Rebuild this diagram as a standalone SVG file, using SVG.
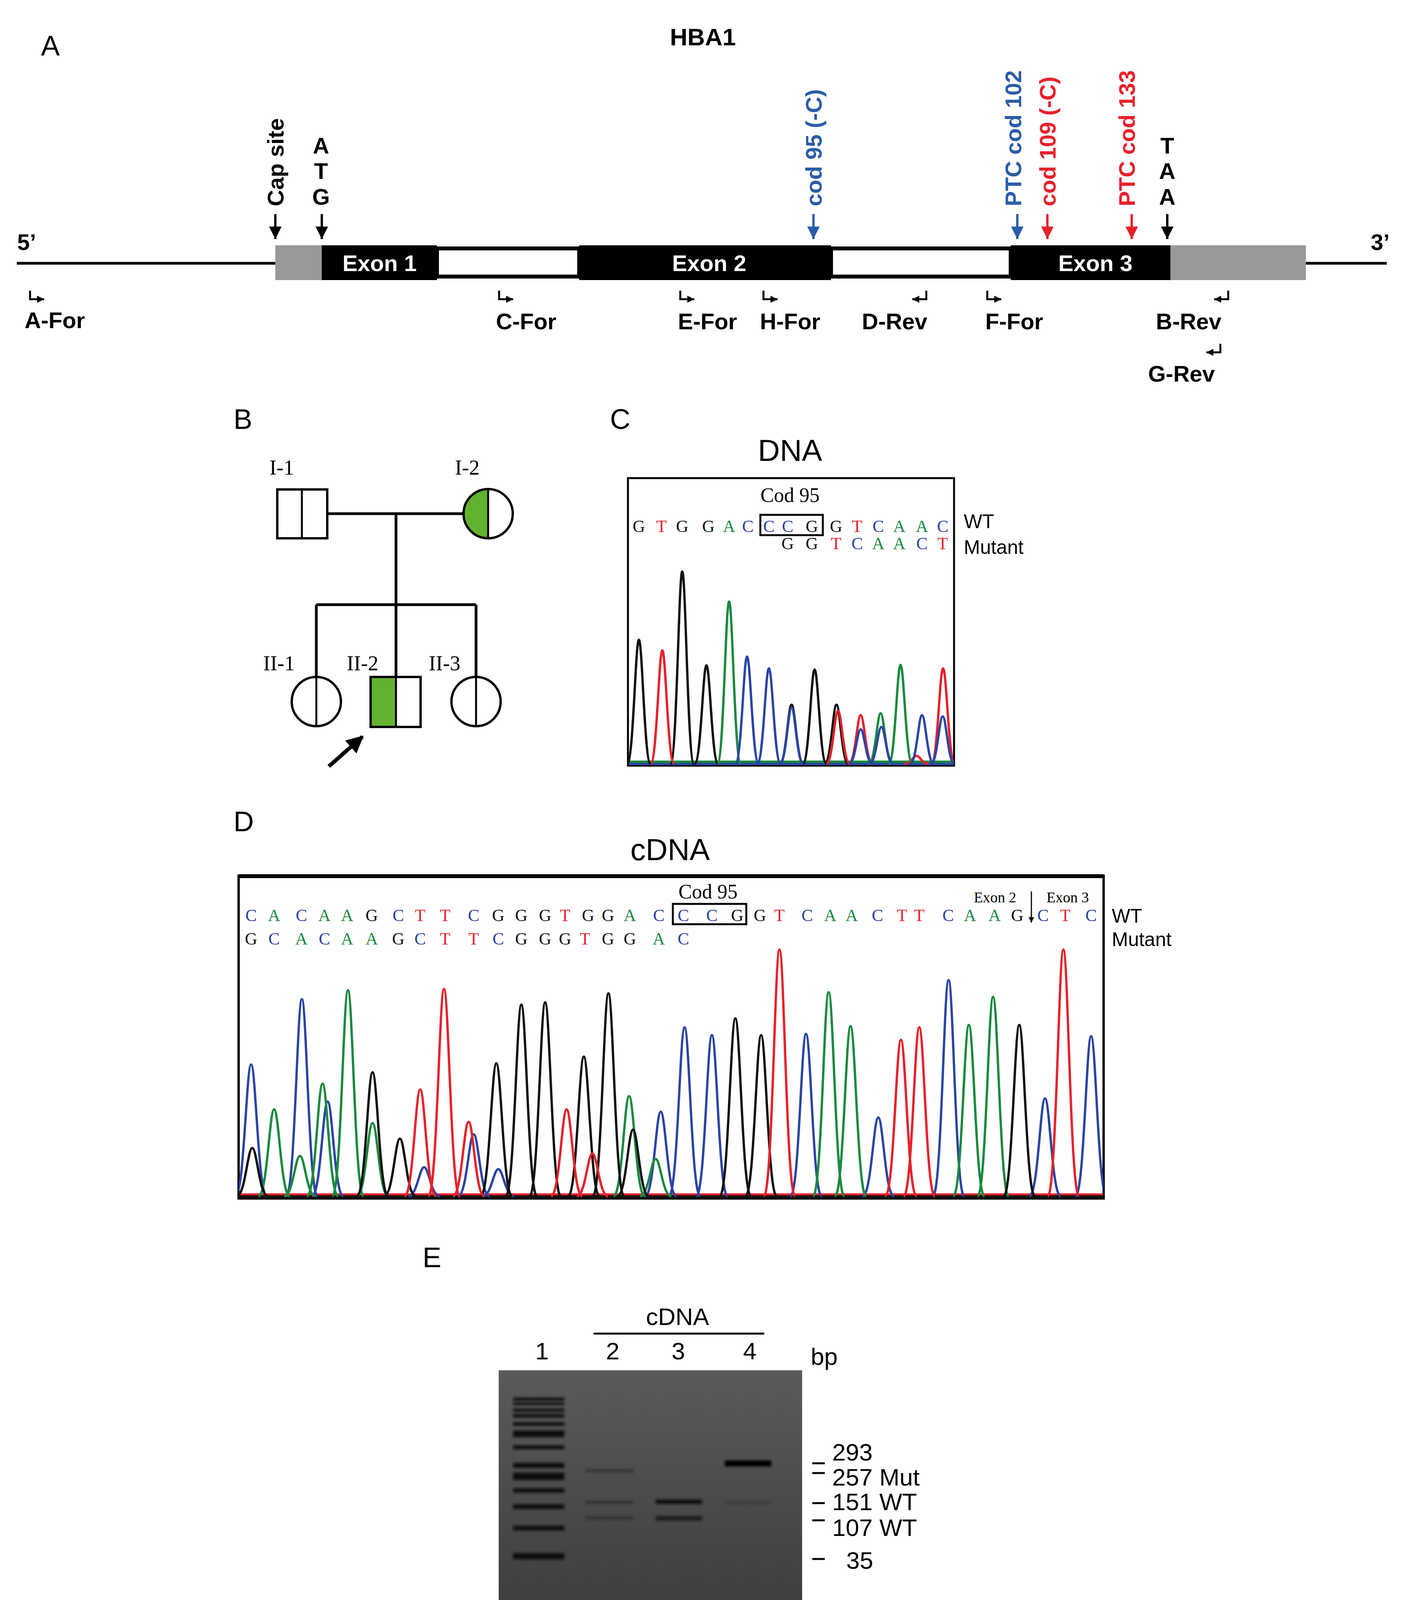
<svg xmlns="http://www.w3.org/2000/svg" width="3608" height="4448" viewBox="0 0 3608 4448">
<defs>
<style>
.sans{font-family:"Liberation Sans",Arial,sans-serif}
.bold{font-family:"Liberation Sans",Arial,sans-serif;font-weight:bold}
.ser{font-family:"Liberation Serif","Times New Roman",serif}
.pl{font-family:"Liberation Sans",Arial,sans-serif;font-size:72px}
.lab{font-family:"Liberation Sans",Arial,sans-serif;font-weight:bold;font-size:58px}
.g{fill:#111}.t{fill:#e8202a}.c{fill:#2b44a4}.a{fill:#1a8a3e}
.tr{fill:none;stroke-width:6}
.k{stroke:#111}.r{stroke:#e8202a}.b{stroke:#2b44a4}.gr{stroke:#1a8a3e}
.ln{stroke:#000;stroke-width:7;fill:none}
.gl{font-family:"Liberation Sans",Arial,sans-serif;font-size:62px}
</style>
<marker id="ahk" viewBox="0 0 10 10" refX="10" refY="5" markerWidth="32" markerHeight="38" markerUnits="userSpaceOnUse" orient="auto"><path d="M0,0 L10,5 L0,10 Z" fill="#000"/></marker>
<marker id="ahb" viewBox="0 0 10 10" refX="10" refY="5" markerWidth="32" markerHeight="38" markerUnits="userSpaceOnUse" orient="auto"><path d="M0,0 L10,5 L0,10 Z" fill="#2b5ca8"/></marker>
<marker id="ahr" viewBox="0 0 10 10" refX="10" refY="5" markerWidth="32" markerHeight="38" markerUnits="userSpaceOnUse" orient="auto"><path d="M0,0 L10,5 L0,10 Z" fill="#e8202a"/></marker>
<marker id="ahs" viewBox="0 0 10 10" refX="10" refY="5" markerWidth="16" markerHeight="14" markerUnits="userSpaceOnUse" orient="auto"><path d="M0,0 L10,5 L0,10 Z" fill="#000"/></marker>
<marker id="pr" viewBox="0 0 10 10" refX="10" refY="5" markerWidth="20" markerHeight="18" markerUnits="userSpaceOnUse" orient="auto"><path d="M0,0 L10,5 L0,10 Z" fill="#000"/></marker>
<marker id="big" viewBox="0 0 10 10" refX="9" refY="5" markerWidth="50" markerHeight="44" markerUnits="userSpaceOnUse" orient="auto"><path d="M0,0 L10,5 L0,10 Z" fill="#000"/></marker>
<clipPath id="cc"><rect x="1608" y="1224" width="835" height="736"/></clipPath>
<clipPath id="cd"><rect x="611" y="2242" width="2215" height="826"/></clipPath>
<linearGradient id="gel" x1="0" y1="0" x2="0" y2="1"><stop offset="0" stop-color="#5a5a5a"/><stop offset="1" stop-color="#3c3c3c"/></linearGradient>
<filter id="bl" x="-10%" y="-100%" width="120%" height="300%"><feGaussianBlur stdDeviation="3"/></filter>
</defs>
<rect width="3608" height="4448" fill="#fff"/>

<!-- Panel A -->
<g id="panelA">
<text class="pl" x="105" y="142">A</text>
<text class="bold" font-size="62" x="1800" y="116" text-anchor="middle">HBA1</text>
<text class="bold" font-size="58" x="44" y="640">5’</text>
<text class="bold" font-size="58" x="3510" y="640">3’</text>
<line x1="43" y1="674" x2="705" y2="674" class="ln"/>
<line x1="3344" y1="674" x2="3551" y2="674" class="ln"/>
<rect x="705" y="628" width="119" height="89" fill="#999"/>
<rect x="2997" y="628" width="347" height="89" fill="#999"/>
<g id="exon1"><rect x="824" y="628" width="295" height="89" fill="#000"/><text class="bold" font-size="58" x="972" y="694" fill="#fff" text-anchor="middle">Exon 1</text></g>
<rect x="1119" y="636" width="364" height="72" fill="#fff" stroke="#000" stroke-width="10"/>
<g id="exon2"><rect x="1483" y="628" width="645" height="89" fill="#000"/><text class="bold" font-size="58" x="1816" y="694" fill="#fff" text-anchor="middle">Exon 2</text></g>
<rect x="2128" y="636" width="460" height="72" fill="#fff" stroke="#000" stroke-width="10"/>
<g id="exon3"><rect x="2588" y="628" width="409" height="89" fill="#000"/><text class="bold" font-size="58" x="2805" y="694" fill="#fff" text-anchor="middle">Exon 3</text></g>
</g>
<g id="siteArrows" stroke-width="6">
<line x1="705" y1="548" x2="705" y2="612" stroke="#000" marker-end="url(#ahk)"/>
<line x1="824" y1="548" x2="824" y2="612" stroke="#000" marker-end="url(#ahk)"/>
<line x1="2083" y1="548" x2="2083" y2="612" stroke="#2b5ca8" marker-end="url(#ahb)"/>
<line x1="2605" y1="548" x2="2605" y2="612" stroke="#2b5ca8" marker-end="url(#ahb)"/>
<line x1="2682" y1="548" x2="2682" y2="612" stroke="#e8202a" marker-end="url(#ahr)"/>
<line x1="2898" y1="548" x2="2898" y2="612" stroke="#e8202a" marker-end="url(#ahr)"/>
<line x1="2989" y1="548" x2="2989" y2="612" stroke="#000" marker-end="url(#ahk)"/>
</g>
<g id="siteLabels" class="lab">
<text transform="translate(726,528) rotate(-90)">Cap site</text>
<text x="822" y="393" text-anchor="middle">A</text>
<text x="822" y="458" text-anchor="middle">T</text>
<text x="822" y="524" text-anchor="middle">G</text>
<text transform="translate(2104,528) rotate(-90)" fill="#2b5ca8">cod 95 (-C)</text>
<text transform="translate(2615,528) rotate(-90)" fill="#2b5ca8">PTC cod 102</text>
<text transform="translate(2703,528) rotate(-90)" fill="#e8202a">cod 109 (-C)</text>
<text transform="translate(2906,528) rotate(-90)" fill="#e8202a">PTC cod 133</text>
<text x="2989" y="393" text-anchor="middle">T</text>
<text x="2989" y="458" text-anchor="middle">A</text>
<text x="2989" y="524" text-anchor="middle">A</text>
</g>
<g id="primers" fill="none" stroke="#000" stroke-width="5">
<path d="M77,744 v22 h36" marker-end="url(#pr)"/>
<path d="M1278,744 v22 h36" marker-end="url(#pr)"/>
<path d="M1742,744 v22 h36" marker-end="url(#pr)"/>
<path d="M1955,744 v22 h36" marker-end="url(#pr)"/>
<path d="M2372,744 v22 h-36" marker-end="url(#pr)"/>
<path d="M2528,744 v22 h36" marker-end="url(#pr)"/>
<path d="M3145,744 v22 h-36" marker-end="url(#pr)"/>
<path d="M3125,880 v22 h-36" marker-end="url(#pr)"/>
</g>
<g id="primerLabels" class="lab">
<text x="63" y="840">A-For</text>
<text x="1270" y="843">C-For</text>
<text x="1736" y="843">E-For</text>
<text x="1946" y="843">H-For</text>
<text x="2207" y="843">D-Rev</text>
<text x="2523" y="843">F-For</text>
<text x="2960" y="843">B-Rev</text>
<text x="2940" y="977">G-Rev</text>
</g>

<!-- Panel B pedigree -->
<g id="panelB">
<text class="pl" x="598" y="1098">B</text>
<g id="pedLines" class="ln" stroke-width="6">
<line x1="838" y1="1315" x2="1187" y2="1315"/>
<line x1="1014" y1="1315" x2="1014" y2="1548"/>
<line x1="810" y1="1548" x2="1219" y2="1548"/>
<line x1="810" y1="1548" x2="810" y2="1733"/>
<line x1="1014" y1="1548" x2="1014" y2="1733"/>
<line x1="1219" y1="1548" x2="1219" y2="1733"/>
</g>
<g id="I-1"><rect x="710" y="1253" width="128" height="125" fill="#fff" stroke="#000" stroke-width="6"/><line x1="773" y1="1253" x2="773" y2="1378" stroke="#000" stroke-width="5"/></g>
<g id="I-2"><path d="M1250,1252 A63,63 0 0 0 1250,1378 Z" fill="#62b22f"/><circle cx="1250" cy="1315" r="63" fill="none" stroke="#000" stroke-width="6"/><line x1="1250" y1="1252" x2="1250" y2="1378" stroke="#000" stroke-width="5"/></g>
<g id="II-1"><circle cx="810" cy="1796" r="63" fill="#fff" stroke="#000" stroke-width="6"/><line x1="810" y1="1733" x2="810" y2="1859" stroke="#000" stroke-width="5"/></g>
<g id="II-2"><rect x="949" y="1733" width="65" height="128" fill="#62b22f"/><rect x="949" y="1733" width="128" height="128" fill="none" stroke="#000" stroke-width="6"/><line x1="1014" y1="1733" x2="1014" y2="1861" stroke="#000" stroke-width="5"/></g>
<g id="II-3"><circle cx="1219" cy="1796" r="63" fill="#fff" stroke="#000" stroke-width="6"/><line x1="1219" y1="1733" x2="1219" y2="1859" stroke="#000" stroke-width="5"/></g>
<line x1="842" y1="1962" x2="928" y2="1886" stroke="#000" stroke-width="10" marker-end="url(#big)"/>
<g class="ser" font-size="54">
<text x="690" y="1215">I-1</text>
<text x="1165" y="1215">I-2</text>
<text x="674" y="1716">II-1</text>
<text x="888" y="1716">II-2</text>
<text x="1098" y="1716">II-3</text>
</g>
</g>

<!-- Panel C -->
<g id="panelC">
<text class="pl" x="1562" y="1098">C</text>
<text class="sans" font-size="78" x="2023" y="1180" text-anchor="middle">DNA</text>
<rect x="1608" y="1224" width="835" height="736" fill="none" stroke="#000" stroke-width="5"/>
<text class="ser" font-size="52" x="2023" y="1285" text-anchor="middle">Cod 95</text>
<rect x="1947" y="1318" width="160" height="52" fill="none" stroke="#000" stroke-width="5"/>
<g class="ser" font-size="44" text-anchor="middle">
<text x="1636" y="1362" class="g">G</text><text x="1694" y="1362" class="t">T</text><text x="1747" y="1362" class="g">G</text><text x="1814" y="1362" class="g">G</text><text x="1867" y="1362" class="a">A</text><text x="1915" y="1362" class="c">C</text><text x="1969" y="1362" class="c">C</text><text x="2017" y="1362" class="c">C</text><text x="2079" y="1362" class="g">G</text><text x="2141" y="1362" class="g">G</text><text x="2195" y="1362" class="t">T</text><text x="2249" y="1362" class="c">C</text><text x="2303" y="1362" class="a">A</text><text x="2361" y="1362" class="a">A</text><text x="2414" y="1362" class="c">C</text>
<text x="2017" y="1406" class="g">G</text><text x="2079" y="1406" class="g">G</text><text x="2141" y="1406" class="t">T</text><text x="2195" y="1406" class="c">C</text><text x="2249" y="1406" class="a">A</text><text x="2303" y="1406" class="a">A</text><text x="2361" y="1406" class="c">C</text><text x="2414" y="1406" class="t">T</text>
</g>
<text class="sans" font-size="50" x="2468" y="1352">WT</text>
<text class="sans" font-size="50" x="2468" y="1418">Mutant</text>
<g clip-path="url(#cc)">
<path class="tr gr" d="M1610,1950 H2440"/>
<path class="tr b" d="M1610,1956 H2440"/>
<path class="tr k" d="M1606,1955C1622,1955 1627,1638 1636,1638C1645,1638 1650,1955 1666,1955M1717,1955C1733,1955 1738,1463 1747,1463C1756,1463 1761,1955 1777,1955M1779,1955C1795,1955 1800,1703 1809,1703C1818,1703 1823,1955 1839,1955M1997,1955C2013,1955 2018,1804 2027,1804C2036,1804 2041,1955 2057,1955M2056,1955C2072,1955 2077,1714 2086,1714C2095,1714 2100,1955 2116,1955M2112,1955C2128,1955 2133,1804 2142,1804C2151,1804 2156,1955 2172,1955"/>
<path class="tr r" d="M1666,1955C1682,1955 1687,1665 1696,1665C1705,1665 1710,1955 1726,1955M2116,1955C2132,1955 2137,1820 2146,1820C2155,1820 2160,1955 2176,1955M2174,1955C2190,1955 2195,1831 2204,1831C2213,1831 2218,1955 2234,1955M2317,1955C2333,1955 2338,1935 2347,1935C2356,1935 2361,1955 2377,1955M2385,1955C2401,1955 2406,1711 2415,1711C2424,1711 2429,1955 2445,1955"/>
<path class="tr gr" d="M1837,1955C1853,1955 1858,1540 1867,1540C1876,1540 1881,1955 1897,1955M2225,1955C2241,1955 2246,1826 2255,1826C2264,1826 2269,1955 2285,1955M2276,1955C2292,1955 2297,1702 2306,1702C2315,1702 2320,1955 2336,1955"/>
<path class="tr b" d="M1883,1955C1899,1955 1904,1681 1913,1681C1922,1681 1927,1955 1943,1955M1939,1955C1955,1955 1960,1711 1969,1711C1978,1711 1983,1955 1999,1955M1997,1955C2013,1955 2018,1812 2027,1812C2036,1812 2041,1955 2057,1955M2174,1955C2190,1955 2195,1867 2204,1867C2213,1867 2218,1955 2234,1955M2227,1955C2243,1955 2248,1861 2257,1861C2266,1861 2271,1955 2287,1955M2331,1955C2347,1955 2352,1831 2361,1831C2370,1831 2375,1955 2391,1955M2384,1955C2400,1955 2405,1834 2414,1834C2423,1834 2428,1955 2444,1955"/>
</g>
</g>

<!-- Panel D -->
<g id="panelD">
<text class="pl" x="598" y="2128">D</text>
<text class="sans" font-size="78" x="1716" y="2202" text-anchor="middle">cDNA</text>
<rect x="611" y="2242" width="2215" height="826" fill="none" stroke="#000" stroke-width="6"/>
<line x1="611" y1="2243" x2="2826" y2="2243" stroke="#000" stroke-width="10"/>
<text class="ser" font-size="52" x="1813" y="2300" text-anchor="middle">Cod 95</text>
<rect x="1723" y="2314" width="188" height="52" fill="none" stroke="#000" stroke-width="5"/>
<text class="ser" font-size="38" x="2548" y="2310" text-anchor="middle">Exon 2</text>
<text class="ser" font-size="38" x="2734" y="2310" text-anchor="middle">Exon 3</text>
<line x1="2641" y1="2282" x2="2641" y2="2362" stroke="#000" stroke-width="3" marker-end="url(#ahs)"/>
<g class="ser" font-size="44" text-anchor="middle">
<text x="643" y="2358" class="c">C</text><text x="702" y="2358" class="a">A</text><text x="772" y="2358" class="c">C</text><text x="831" y="2358" class="a">A</text><text x="889" y="2358" class="a">A</text><text x="952" y="2358" class="g">G</text><text x="1020" y="2358" class="c">C</text><text x="1076" y="2358" class="t">T</text><text x="1140" y="2358" class="t">T</text><text x="1213" y="2358" class="c">C</text><text x="1276" y="2358" class="g">G</text><text x="1335" y="2358" class="g">G</text><text x="1396" y="2358" class="g">G</text><text x="1447" y="2358" class="t">T</text><text x="1506" y="2358" class="g">G</text><text x="1557" y="2358" class="g">G</text><text x="1613" y="2358" class="a">A</text><text x="1687" y="2358" class="c">C</text><text x="1750" y="2358" class="c">C</text><text x="1823" y="2358" class="c">C</text><text x="1888" y="2358" class="g">G</text><text x="1946" y="2358" class="g">G</text><text x="1996" y="2358" class="t">T</text><text x="2067" y="2358" class="c">C</text><text x="2126" y="2358" class="a">A</text><text x="2181" y="2358" class="a">A</text><text x="2247" y="2358" class="c">C</text><text x="2310" y="2358" class="t">T</text><text x="2354" y="2358" class="t">T</text><text x="2428" y="2358" class="c">C</text><text x="2484" y="2358" class="a">A</text><text x="2547" y="2358" class="a">A</text><text x="2605" y="2358" class="g">G</text><text x="2671" y="2358" class="c">C</text><text x="2728" y="2358" class="t">T</text><text x="2794" y="2358" class="c">C</text>
<text x="643" y="2418" class="g">G</text><text x="702" y="2418" class="c">C</text><text x="772" y="2418" class="a">A</text><text x="831" y="2418" class="c">C</text><text x="889" y="2418" class="a">A</text><text x="952" y="2418" class="a">A</text><text x="1020" y="2418" class="g">G</text><text x="1076" y="2418" class="c">C</text><text x="1140" y="2418" class="t">T</text><text x="1213" y="2418" class="t">T</text><text x="1276" y="2418" class="c">C</text><text x="1335" y="2418" class="g">G</text><text x="1396" y="2418" class="g">G</text><text x="1447" y="2418" class="g">G</text><text x="1498" y="2418" class="t">T</text><text x="1557" y="2418" class="g">G</text><text x="1613" y="2418" class="g">G</text><text x="1687" y="2418" class="a">A</text><text x="1750" y="2418" class="c">C</text>
</g>
<text class="sans" font-size="50" x="2847" y="2362">WT</text>
<text class="sans" font-size="50" x="2847" y="2422">Mutant</text>
<g clip-path="url(#cd)">
<path class="tr r" d="M613,3058 H2824"/>
<path class="tr k" d="M613,3063 H2824"/>
<path class="tr b" d="M603,3062C625,3062 631,2725 643,2725C655,2725 661,3062 683,3062M733,3062C755,3062 761,2558 773,2558C785,2558 791,3062 813,3062M799,3062C821,3062 827,2820 839,2820C851,2820 857,3062 879,3062M1046,3062C1068,3062 1074,2988 1086,2988C1098,2988 1104,3062 1126,3062M1173,3062C1195,3062 1201,2904 1213,2904C1225,2904 1231,3062 1253,3062M1236,3062C1258,3062 1264,2993 1276,2993C1288,2993 1294,3062 1316,3062M1652,3062C1674,3062 1680,2846 1692,2846C1704,2846 1710,3062 1732,3062M1713,3062C1735,3062 1741,2630 1753,2630C1765,2630 1771,3062 1793,3062M1783,3062C1805,3062 1811,2650 1823,2650C1835,2650 1841,3062 1863,3062M2024,3062C2046,3062 2052,2647 2064,2647C2076,2647 2082,3062 2104,3062M2209,3062C2231,3062 2237,2861 2249,2861C2261,2861 2267,3062 2289,3062M2389,3062C2411,3062 2417,2509 2429,2509C2441,2509 2447,3062 2469,3062M2636,3062C2658,3062 2664,2812 2676,2812C2688,2812 2694,3062 2716,3062M2754,3062C2776,3062 2782,2653 2794,2653C2806,2653 2812,3062 2834,3062"/>
<path class="tr gr" d="M662,3062C684,3062 690,2840 702,2840C714,2840 720,3062 742,3062M728,3062C750,3062 756,2959 768,2959C780,2959 786,3062 808,3062M786,3062C808,3062 814,2774 826,2774C838,2774 844,3062 866,3062M851,3062C873,3062 879,2535 891,2535C903,2535 909,3062 931,3062M914,3062C936,3062 942,2875 954,2875C966,2875 972,3062 994,3062M1571,3062C1593,3062 1599,2806 1611,2806C1623,2806 1629,3062 1651,3062M1639,3062C1661,3062 1667,2967 1679,2967C1691,2967 1697,3062 1719,3062M2082,3062C2104,3062 2110,2540 2122,2540C2134,2540 2140,3062 2162,3062M2138,3062C2160,3062 2166,2627 2178,2627C2190,2627 2196,3062 2218,3062M2441,3062C2463,3062 2469,2624 2481,2624C2493,2624 2499,3062 2521,3062M2503,3062C2525,3062 2531,2552 2543,2552C2555,2552 2561,3062 2583,3062"/>
<path class="tr k" d="M606,3062C628,3062 634,2939 646,2939C658,2939 664,3062 686,3062M914,3062C936,3062 942,2745 954,2745C966,2745 972,3062 994,3062M984,3062C1006,3062 1012,2915 1024,2915C1036,2915 1042,3062 1064,3062M1231,3062C1253,3062 1259,2722 1271,2722C1283,2722 1289,3062 1311,3062M1295,3062C1317,3062 1323,2572 1335,2572C1347,2572 1353,3062 1375,3062M1356,3062C1378,3062 1384,2566 1396,2566C1408,2566 1414,3062 1436,3062M1455,3062C1477,3062 1483,2705 1495,2705C1507,2705 1513,3062 1535,3062M1518,3062C1540,3062 1546,2543 1558,2543C1570,2543 1576,3062 1598,3062M1581,3062C1603,3062 1609,2892 1621,2892C1633,2892 1639,3062 1661,3062M1843,3062C1865,3062 1871,2607 1883,2607C1895,2607 1901,3062 1923,3062M1909,3062C1931,3062 1937,2650 1949,2650C1961,2650 1967,3062 1989,3062M2570,3062C2592,3062 2598,2624 2610,2624C2622,2624 2628,3062 2650,3062"/>
<path class="tr r" d="M1036,3062C1058,3062 1064,2789 1076,2789C1088,2789 1094,3062 1116,3062M1097,3062C1119,3062 1125,2532 1137,2532C1149,2532 1155,3062 1177,3062M1160,3062C1182,3062 1188,2872 1200,2872C1212,2872 1218,3062 1240,3062M1411,3062C1433,3062 1439,2840 1451,2840C1463,2840 1469,3062 1491,3062M1477,3062C1499,3062 1505,2953 1517,2953C1529,2953 1535,3062 1557,3062M1956,3062C1978,3062 1984,2431 1996,2431C2008,2431 2014,3062 2036,3062M2267,3062C2289,3062 2295,2662 2307,2662C2319,2662 2325,3062 2347,3062M2314,3062C2336,3062 2342,2630 2354,2630C2366,2630 2372,3062 2394,3062M2683,3062C2705,3062 2711,2431 2723,2431C2735,2431 2741,3062 2763,3062"/>
</g>
</g>

<!-- Panel E -->
<g id="panelE">
<text class="pl" x="1082" y="3244">E</text>
<text class="gl" x="1735" y="3392" text-anchor="middle">cDNA</text>
<line x1="1520" y1="3414" x2="1957" y2="3414" stroke="#000" stroke-width="5"/>
<g class="gl" text-anchor="middle">
<text x="1388" y="3480">1</text><text x="1569" y="3480">2</text><text x="1737" y="3480">3</text><text x="1920" y="3480">4</text>
</g>
<text class="gl" x="2076" y="3494">bp</text>
<rect x="1277" y="3508" width="777" height="645" fill="url(#gel)"/>
<g id="ladder" fill="#0c0c0c" filter="url(#bl)">
<rect x="1314" y="3578" width="131" height="8"/>
<rect x="1314" y="3590" width="131" height="7"/>
<rect x="1314" y="3606" width="131" height="8"/>
<rect x="1314" y="3620" width="131" height="9"/>
<rect x="1314" y="3641" width="131" height="9"/>
<rect x="1314" y="3662" width="131" height="17"/>
<rect x="1314" y="3700" width="131" height="10"/>
<rect x="1314" y="3745" width="131" height="13"/>
<rect x="1314" y="3770" width="131" height="19"/>
<rect x="1314" y="3810" width="131" height="11"/>
<rect x="1314" y="3851" width="131" height="12"/>
<rect x="1314" y="3906" width="131" height="12"/>
<rect x="1314" y="3976" width="131" height="16"/>
</g>
<g filter="url(#bl)">
<rect x="1500" y="3761" width="122" height="8" fill="#2a2a2a" opacity="0.7"/>
<rect x="1500" y="3842" width="122" height="8" fill="#2a2a2a" opacity="0.6"/>
<rect x="1500" y="3882" width="122" height="8" fill="#2a2a2a" opacity="0.6"/>
<rect x="1679" y="3839" width="119" height="11" fill="#111"/>
<rect x="1679" y="3881" width="119" height="12" fill="#1a1a1a"/>
<rect x="1856" y="3739" width="119" height="15" fill="#000"/>
<rect x="1856" y="3843" width="119" height="7" fill="#333" opacity="0.6"/>
</g>
<g stroke="#000" stroke-width="5">
<line x1="2080" y1="3746" x2="2112" y2="3746"/>
<line x1="2080" y1="3771" x2="2112" y2="3771"/>
<line x1="2080" y1="3848" x2="2112" y2="3848"/>
<line x1="2080" y1="3892" x2="2112" y2="3892"/>
<line x1="2080" y1="3991" x2="2112" y2="3991"/>
</g>
<g class="gl">
<text x="2131" y="3739">293</text>
<text x="2131" y="3803">257 Mut</text>
<text x="2131" y="3866">151 WT</text>
<text x="2131" y="3932">107 WT</text>
<text x="2167" y="4016">35</text>
<text x="1503" y="4234">0.34</text>
<text x="1894" y="4234">Mutant</text>
<text x="1503" y="4318">0.36</text>
<text x="1689" y="4318">0.55</text>
<text x="1503" y="4402">0.30</text>
<text x="1689" y="4402">0.44</text>
<text x="1948" y="4378">WT</text>
</g>
<path d="M1852,4272 H1868 V4404 H1852" fill="none" stroke="#000" stroke-width="10"/>
</g>
</svg>
